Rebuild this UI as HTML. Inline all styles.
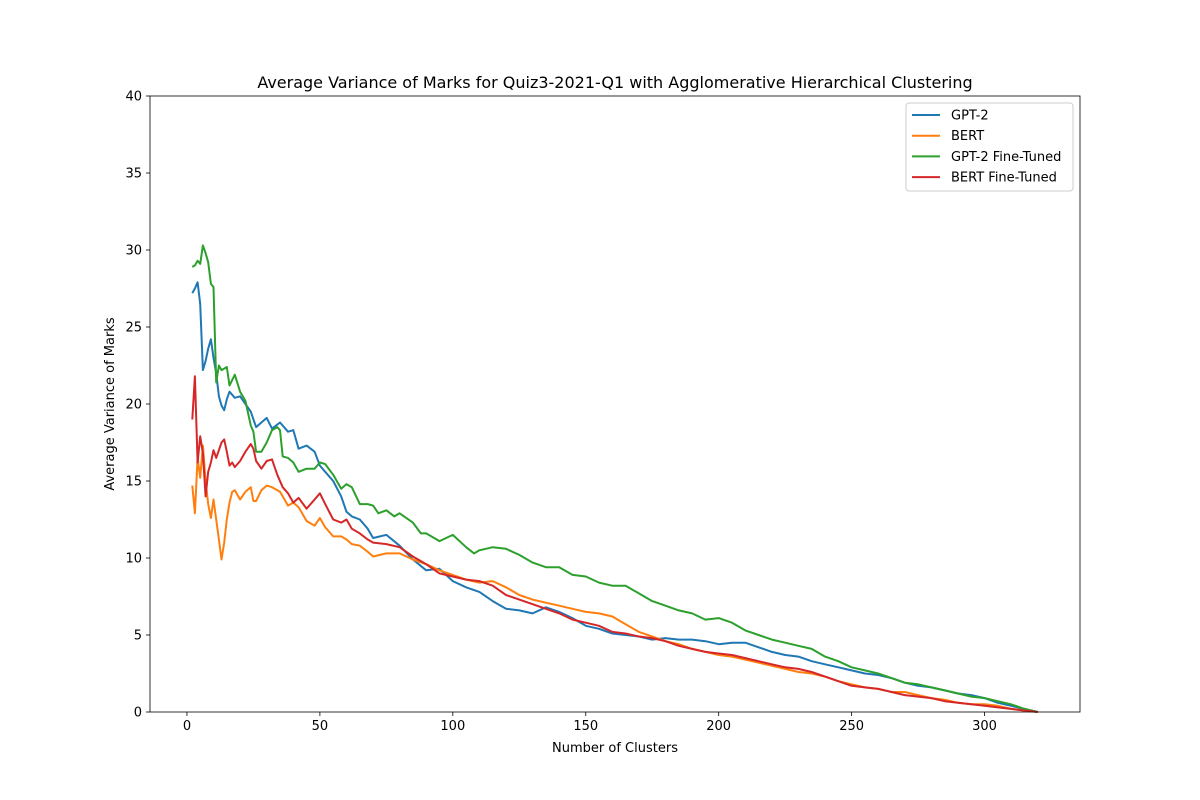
<!DOCTYPE html>
<html><head><meta charset="utf-8"><style>
body{margin:0;background:#fff;}
svg{display:block;font-family:"DejaVu Sans","Liberation Sans",sans-serif;}
</style></head><body>
<svg id="chart" width="1200" height="800"></svg>
<script>
const seriesNames=["GPT-2","BERT","GPT-2 Fine-Tuned","BERT Fine-Tuned"];
const seriesColors=["#1f77b4","#ff7f0e","#2ca02c","#d62728"];
const gptX=[2,3,4,5,6,7,8,9,10,11,12,13,14,15,16,18,20,22,24,26,28,30,32,35,38,40,42,45,48,50,52,55,58,60,62,65,68,70,75,80,85,90,95,100,105,110,115,120,125,130,135,140,145,150,155,160,165,170,175,180,185,190,195,200,205,210,215,220,225,230,235,240,245,250,255,260,265,270,275,280,285,290,295,300,305,310,315,320];
const gptY=[27.2,27.5,27.9,26.5,22.2,22.8,23.6,24.2,23.0,22.0,20.5,19.9,19.6,20.3,20.8,20.4,20.5,20.0,19.5,18.5,18.8,19.1,18.4,18.8,18.2,18.3,17.1,17.3,16.9,16.0,15.6,15.0,14.0,13.0,12.7,12.5,11.9,11.3,11.5,10.8,9.9,9.2,9.3,8.5,8.1,7.8,7.2,6.7,6.6,6.4,6.8,6.5,6.1,5.6,5.4,5.1,5.0,4.9,4.7,4.8,4.7,4.7,4.6,4.4,4.5,4.5,4.2,3.9,3.7,3.6,3.3,3.1,2.9,2.7,2.5,2.4,2.2,1.9,1.7,1.6,1.4,1.2,1.1,0.9,0.6,0.4,0.2,0.0];
const bertX=[2,3,4,5,6,7,8,9,10,11,12,13,14,15,16,17,18,20,22,24,25,26,28,30,32,35,38,40,42,45,48,50,52,55,58,60,62,65,68,70,75,80,85,90,95,100,105,110,115,120,125,130,135,140,145,150,155,160,165,170,175,180,185,190,195,200,205,210,215,220,225,230,235,240,245,250,255,260,265,270,275,280,285,290,295,300,305,310,315,320];
const bertY=[14.7,12.9,16.5,15.2,17.3,15.0,13.5,12.6,13.8,12.5,11.2,9.9,11.0,12.5,13.6,14.3,14.4,13.8,14.3,14.6,13.7,13.7,14.4,14.7,14.6,14.3,13.4,13.6,13.3,12.4,12.1,12.6,12.0,11.4,11.4,11.2,10.9,10.8,10.4,10.1,10.3,10.3,9.9,9.6,9.2,8.9,8.6,8.4,8.5,8.1,7.6,7.3,7.1,6.9,6.7,6.5,6.4,6.2,5.7,5.2,4.9,4.6,4.4,4.1,3.9,3.7,3.6,3.4,3.2,3.0,2.8,2.6,2.5,2.3,2.0,1.8,1.6,1.5,1.3,1.3,1.1,0.9,0.8,0.6,0.5,0.5,0.4,0.2,0.1,0.0];
const gftX=[2,3,4,5,6,7,8,9,10,11,12,13,14,15,16,18,20,22,24,25,26,28,30,32,34,35,36,38,40,42,45,48,50,52,55,58,60,62,65,68,70,72,75,78,80,85,88,90,95,100,105,108,110,115,120,125,130,135,140,145,150,155,160,165,170,175,180,185,190,195,200,205,210,215,220,225,230,235,240,245,250,255,260,265,270,275,280,285,290,295,300,305,310,315,320];
const gftY=[28.9,29.0,29.3,29.1,30.3,29.8,29.2,27.8,27.6,21.4,22.5,22.2,22.3,22.4,21.2,21.9,20.8,20.2,18.6,18.2,16.9,16.9,17.5,18.3,18.5,18.3,16.6,16.5,16.2,15.6,15.8,15.8,16.2,16.1,15.4,14.5,14.8,14.6,13.5,13.5,13.4,12.9,13.1,12.7,12.9,12.3,11.6,11.6,11.1,11.5,10.7,10.3,10.5,10.7,10.6,10.2,9.7,9.4,9.4,8.9,8.8,8.4,8.2,8.2,7.7,7.2,6.9,6.6,6.4,6.0,6.1,5.8,5.3,5.0,4.7,4.5,4.3,4.1,3.6,3.3,2.9,2.7,2.5,2.2,1.9,1.8,1.6,1.4,1.2,1.0,0.9,0.7,0.5,0.2,0.0];
const bftX=[2,3,4,5,6,7,8,9,10,11,12,13,14,15,16,17,18,20,22,24,25,26,28,30,32,34,36,38,40,42,45,48,50,52,55,58,60,62,65,68,70,75,80,85,90,95,100,105,110,115,120,125,130,135,140,145,150,155,160,165,170,175,180,185,190,195,200,205,210,215,220,225,230,235,240,245,250,255,260,265,270,275,280,285,290,295,300,305,310,315,320];
const bftY=[19.0,21.8,16.2,17.9,16.8,14.0,15.6,16.2,17.0,16.5,17.0,17.5,17.7,16.9,16.0,16.2,15.9,16.3,16.9,17.4,17.1,16.3,15.8,16.3,16.4,15.4,14.6,14.2,13.6,13.9,13.2,13.8,14.2,13.5,12.5,12.3,12.5,11.9,11.6,11.2,11.0,10.9,10.7,10.1,9.6,9.0,8.8,8.6,8.5,8.2,7.6,7.3,7.0,6.7,6.4,6.0,5.8,5.6,5.2,5.1,4.9,4.8,4.6,4.3,4.1,3.9,3.8,3.7,3.5,3.3,3.1,2.9,2.8,2.6,2.3,2.0,1.7,1.6,1.5,1.3,1.1,1.0,0.9,0.7,0.6,0.5,0.4,0.3,0.2,0.1,0.0];
const xTicks=[0,50,100,150,200,250,300];
const yTicks=[0,5,10,15,20,25,30,35,40];

const NS="http://www.w3.org/2000/svg";
const svg=document.getElementById('chart');
const L=150,R=1080,T=96,B=712,xMin=-13.9,xMax=335.9,yMin=0,yMax=40;
const sx=v=>L+(v-xMin)/(xMax-xMin)*(R-L);
const sy=v=>B-(v-yMin)/(yMax-yMin)*(B-T);
function mk(tag,attrs,parent){const e=document.createElementNS(NS,tag);for(const k in attrs)e.setAttribute(k,attrs[k]);(parent||svg).appendChild(e);return e;}

const title=mk('text',{x:615,y:88,'text-anchor':'middle','font-size':16,fill:'#000'});
title.textContent="Average Variance of Marks for Quiz3-2021-Q1 with Agglomerative Hierarchical Clustering";



xTicks.forEach(t=>{
  const x=sx(t);
  const ln=mk('line',{x1:x,x2:x,y1:B,y2:B+4,stroke:'#000','stroke-width':0.8});
  
  
  const tx=mk('text',{x:x,y:B+18,'text-anchor':'middle','font-size':13,fill:'#000'});
  tx.textContent=t;
  
  
});
yTicks.forEach(t=>{
  const y=sy(t);
  const ln=mk('line',{x1:L-4,x2:L,y1:y,y2:y,stroke:'#000','stroke-width':0.8});
  
  
  const tx=mk('text',{x:L-8,y:y+4.5,'text-anchor':'end','font-size':13,fill:'#000'});
  tx.textContent=t;
  
  
});
const xl=mk('text',{x:615,y:752,'text-anchor':'middle','font-size':13,fill:'#000'});
xl.textContent="Number of Clusters";


const yl=mk('text',{x:114,y:404,'text-anchor':'middle','font-size':13,fill:'#000',transform:'rotate(-90 114 404)'});
yl.textContent="Average Variance of Marks";



const allX=[gptX,bertX,gftX,bftX],allY=[gptY,bertY,gftY,bftY];
const lineNames=['gpt2-line','bert-line','gpt2-finetuned-line','bert-finetuned-line'];
allX.forEach((xs,i)=>{
  const pts=xs.map((x,j)=>sx(x).toFixed(1)+','+sy(allY[i][j]).toFixed(1)).join(' ');
  const p=mk('polyline',{points:pts,fill:'none',stroke:seriesColors[i],'stroke-width':2,'stroke-linejoin':'round'});
  
  
});

const frame=mk('rect',{x:L,y:T,width:R-L,height:B-T,fill:'none',stroke:'#000','stroke-width':0.8});



const lg=mk('g',{});


mk('rect',{x:906,y:103,width:167,height:88,rx:3,fill:'#fff',stroke:'#ccc','stroke-width':1},lg);
seriesNames.forEach((n,i)=>{
  const y=115+i*20.7;
  const g=mk('g',{},lg);
  
  
  mk('line',{x1:912,x2:940,y1:y,y2:y,stroke:seriesColors[i],'stroke-width':2},g);
  const t=mk('text',{x:951,y:y+4.5,'font-size':13,fill:'#000'},g);
  t.textContent=n;
});
</script>
</body></html>
